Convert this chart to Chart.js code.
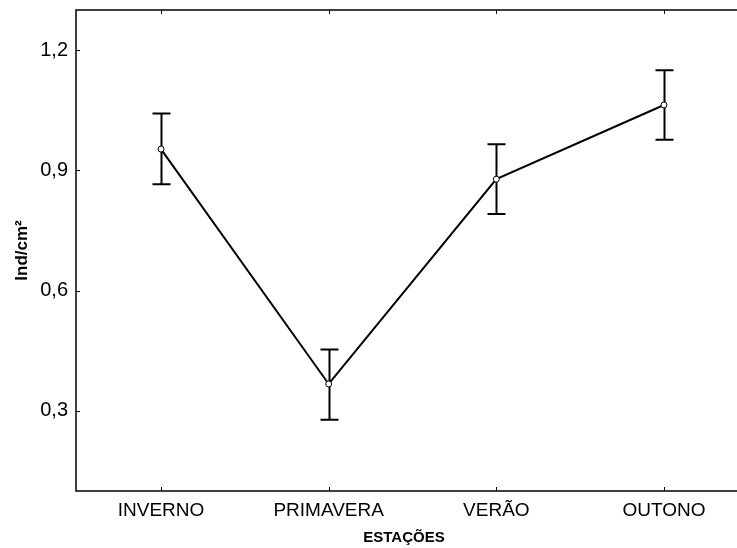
<!DOCTYPE html>
<html>
<head>
<meta charset="utf-8">
<script src="https://cdn.jsdelivr.net/npm/chart.js@4.4.1/dist/chart.umd.min.js"></script>
<style>
  html, body { margin: 0; padding: 0; background: #fff; }
  #wrap { width: 737px; height: 548px; }
</style>
</head>
<body>
<div id="wrap"><canvas id="c" width="737" height="548"></canvas></div>
<script>
// Seasons and mean density with confidence limits
const categories = ['INVERNO', 'PRIMAVERA', 'VERÃO', 'OUTONO'];
const means = [0.953, 0.367, 0.878, 1.063];
const lower = [0.865, 0.278, 0.791, 0.976];
const upper = [1.042, 0.453, 0.965, 1.150];
const yTicks = [0.3, 0.6, 0.9, 1.2];

const points = means.map((v, i) => ({ x: i, y: v }));

// Frame (open on the right), inward tick marks and error bars
const framePlugin = {
  id: 'frame',
  beforeDatasetsDraw(chart) {
    const { ctx, scales: { x, y } } = chart;
    ctx.save();
    ctx.strokeStyle = '#000';
    ctx.lineWidth = 2;
    for (let i = 0; i < means.length; i++) {
      const px = Math.round(x.getPixelForValue(i)) + 0.5;
      const yl = y.getPixelForValue(lower[i]);
      const yu = y.getPixelForValue(upper[i]);
      ctx.beginPath();
      ctx.moveTo(px, yl); ctx.lineTo(px, yu);
      ctx.moveTo(px - 9, yl); ctx.lineTo(px + 9, yl);
      ctx.moveTo(px - 9, yu); ctx.lineTo(px + 9, yu);
      ctx.stroke();
    }
    ctx.restore();
  },
  afterDraw(chart) {
    const { ctx, chartArea: a, scales: { x, y } } = chart;
    const edge = chart.width;
    ctx.save();
    ctx.strokeStyle = '#000';
    ctx.lineWidth = 1.5;
    ctx.beginPath();
    ctx.moveTo(edge, a.top); ctx.lineTo(a.left, a.top);
    ctx.lineTo(a.left, a.bottom); ctx.lineTo(edge, a.bottom);
    ctx.stroke();
    ctx.lineWidth = 1;
    ctx.beginPath();
    categories.forEach((c, i) => {
      const px = Math.round(x.getPixelForValue(i)) + 0.5;
      ctx.moveTo(px, a.bottom); ctx.lineTo(px, a.bottom - 4);
      ctx.moveTo(px, a.top); ctx.lineTo(px, a.top + 4);
    });
    yTicks.forEach(v => {
      const py = Math.round(y.getPixelForValue(v)) + 0.5;
      ctx.moveTo(a.left, py); ctx.lineTo(a.left + 4, py);
    });
    ctx.stroke();
    ctx.restore();
  }
};

new Chart(document.getElementById('c'), {
  type: 'line',
  data: {
    datasets: [{
      data: points,
      borderColor: '#000',
      borderWidth: 2,
      pointRadius: 3,
      pointBackgroundColor: '#fff',
      pointBorderColor: '#000',
      pointBorderWidth: 1,
      tension: 0
    }]
  },
  options: {
    responsive: false,
    animation: false,
    events: [],
    layout: { padding: { top: 10, right: 0, left: 0, bottom: 0 } },
    plugins: { legend: { display: false }, tooltip: { enabled: false } },
    scales: {
      x: {
        type: 'linear',
        min: -0.507,
        max: 3.4056,
        grid: { display: false, drawTicks: false },
        border: { display: false },
        afterBuildTicks(s) { s.ticks = categories.map((c, i) => ({ value: i })); },
        afterFit(s) { s.height = 57; s.paddingLeft = 0; s.paddingRight = 0; },
        ticks: {
          color: '#000',
          padding: 8,
          autoSkip: false,
          maxRotation: 0,
          font: { family: 'Liberation Sans', size: 19 },
          callback: (v) => categories[v]
        },
        title: {
          display: true,
          text: 'ESTAÇÕES',
          color: '#000',
          padding: { top: 0, bottom: 1 },
          font: { family: 'Liberation Sans', size: 15, weight: 'bold' }
        }
      },
      y: {
        min: 0.1,
        max: 1.3,
        grid: { display: false, drawTicks: false },
        border: { display: false },
        afterBuildTicks(s) { s.ticks = yTicks.map(v => ({ value: v })); },
        afterFit(s) { s.width = 76; s.paddingTop = 0; s.paddingBottom = 0; },
        ticks: {
          color: '#000',
          padding: 8,
          font: { family: 'Liberation Sans', size: 20 },
          callback: (v) => v.toFixed(1).replace('.', ',')
        },
        title: {
          display: true,
          text: 'Ind/cm²',
          color: '#000',
          padding: { top: 12, bottom: 0 },
          font: { family: 'Liberation Sans', size: 17, weight: 'bold' }
        }
      }
    }
  },
  plugins: [framePlugin]
});
</script>
</body>
</html>
